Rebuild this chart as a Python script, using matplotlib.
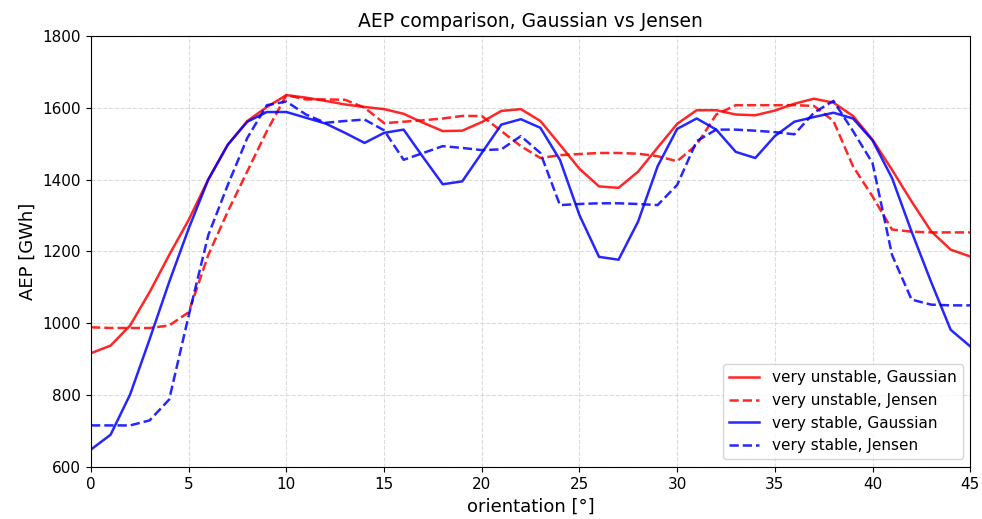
import numpy as np
import matplotlib
matplotlib.use("Agg")
import matplotlib.pyplot as plt

# orientation in degrees
orientation = np.arange(0, 46)

# AEP [GWh]
unstable_gauss = [917, 938, 994, 1087, 1190, 1288, 1400, 1497, 1563, 1602,
                  1635, 1628, 1619, 1609, 1602, 1596, 1583, 1558, 1535, 1536,
                  1560, 1591, 1596, 1563, 1497, 1430, 1381, 1377, 1422, 1489,
                  1555, 1593, 1593, 1581, 1579, 1592, 1611, 1625, 1614, 1577,
                  1511, 1427, 1339, 1256, 1205, 1186]
unstable_jensen = [989, 987, 987, 987, 994, 1031, 1190, 1311, 1423, 1535,
                   1635, 1623, 1623, 1622, 1600, 1557, 1561, 1565, 1570, 1577,
                   1577, 1535, 1493, 1460, 1468, 1471, 1474, 1474, 1472, 1465,
                   1451, 1497, 1581, 1607, 1607, 1607, 1607, 1605, 1563, 1437,
                   1353, 1261, 1255, 1253, 1253, 1253]
stable_gauss = [649, 690, 802, 956, 1115, 1264, 1400, 1497, 1561, 1588,
                1588, 1572, 1556, 1530, 1502, 1530, 1539, 1462, 1387, 1395,
                1474, 1553, 1568, 1544, 1455, 1301, 1185, 1177, 1283, 1437,
                1541, 1570, 1539, 1477, 1460, 1521, 1561, 1574, 1586, 1570,
                1509, 1404, 1255, 1115, 982, 936]
stable_jensen = [716, 716, 716, 730, 788, 1022, 1245, 1385, 1516, 1607,
                 1617, 1581, 1558, 1563, 1567, 1537, 1455, 1474, 1493, 1488,
                 1482, 1484, 1521, 1474, 1329, 1332, 1334, 1334, 1332, 1329,
                 1385, 1507, 1539, 1539, 1536, 1532, 1526, 1586, 1619, 1535,
                 1446, 1190, 1066, 1052, 1050, 1050]

fig = plt.figure(figsize=(9.82, 5.19), dpi=100)
ax = fig.add_axes([0.0927, 0.1, 0.8953, 0.831])

ax.plot(orientation, unstable_gauss, "r-", alpha=0.85, lw=1.8,
        label="very unstable, Gaussian")
ax.plot(orientation, unstable_jensen, "r--", alpha=0.85, lw=1.8,
        label="very unstable, Jensen")
ax.plot(orientation, stable_gauss, "b-", alpha=0.85, lw=1.8,
        label="very stable, Gaussian")
ax.plot(orientation, stable_jensen, "b--", alpha=0.85, lw=1.8,
        label="very stable, Jensen")

ax.set_xlim(0, 45)
ax.set_ylim(600, 1800)
ax.set_xticks(np.arange(0, 46, 5))
ax.tick_params(labelsize=11)
ax.grid(True, linestyle="--", color="lightgray", alpha=0.8)

ax.set_title("AEP comparison, Gaussian vs Jensen", fontsize=13.5)
ax.set_xlabel("orientation [°]", fontsize=13)
ax.set_ylabel("AEP [GWh]", fontsize=13)
ax.legend(loc="lower right", fontsize=11)

fig.savefig("out.png", dpi=100)
